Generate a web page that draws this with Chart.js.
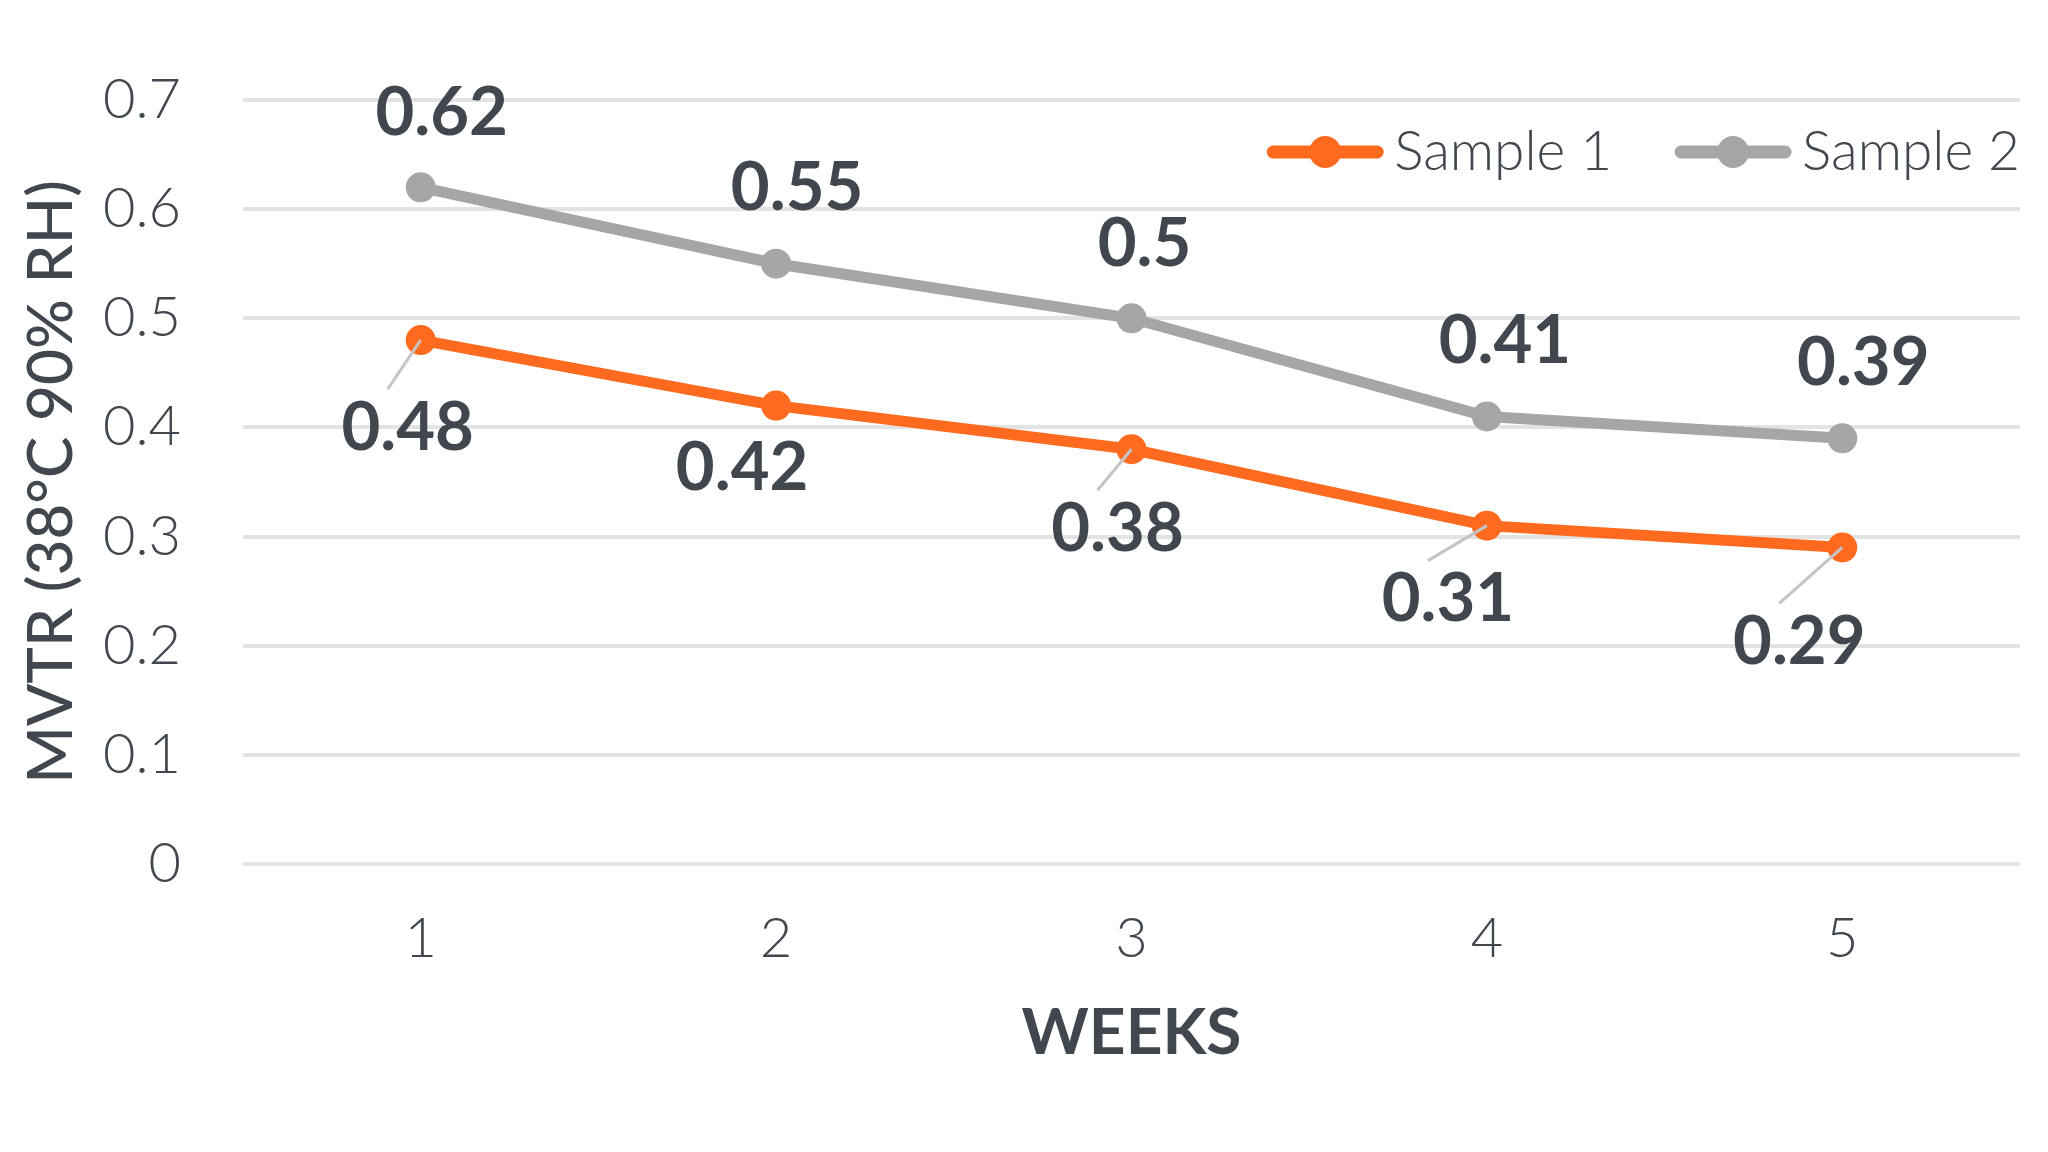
<!DOCTYPE html>
<html>
<head>
<meta charset="utf-8">
<script src="https://cdn.jsdelivr.net/npm/chart.js@4.4.1/dist/chart.umd.min.js"></script>
<style>
  html, body { margin: 0; padding: 0; background: #fff; }
  #wrap { width: 2048px; height: 1152px; }
</style>
</head>
<body>
<div id="wrap"><canvas id="mvtrChart"></canvas></div>
<script>
// values
const weeks = ["1", "2", "3", "4", "5"];
const sample1 = [0.48, 0.42, 0.38, 0.31, 0.29];
const sample2 = [0.62, 0.55, 0.5, 0.41, 0.39];
const seriesNames = ["Sample 1", "Sample 2"];

// where each value label sits, relative to its point (px) - layout only
const shift1 = [[-13, 88], [-34, 63], [-14, 80], [-39, 74], [-43, 95]];
const shift2 = [[21, -74], [21, -75], [13, -74], [18, -75], [21, -75]];
const leader1 = [true, false, true, true, true];

const inkColor = "#40474e";
const orange = "#ff6a1f";
const grey = "#a6a6a8";

// data labels, with the little leader lines going back to the point
const valueLabels = {
  id: "valueLabels",
  afterDatasetsDraw(chart) {
    const ctx = chart.ctx;
    ctx.save();
    chart.data.datasets.forEach((ds, di) => {
      const meta = chart.getDatasetMeta(di);
      meta.data.forEach((pt, i) => {
        const lx = pt.x + ds.labelShift[i][0];
        const ly = pt.y + ds.labelShift[i][1];
        if (ds.leaders && ds.leaders[i]) {
          ctx.strokeStyle = "#c4c4c4";
          ctx.lineWidth = 3;
          ctx.beginPath();
          ctx.moveTo(pt.x, pt.y);
          ctx.lineTo(lx - 20, ly - 39);
          ctx.stroke();
        }
        ctx.fillStyle = inkColor;
        ctx.font = "700 67px Lato";
        ctx.textAlign = "center";
        ctx.textBaseline = "middle";
        ctx.fillText(String(ds.data[i]), lx, ly);
      });
    });
    ctx.restore();
  }
};

// legend sits inside the plot, top right
const cornerLegend = {
  id: "cornerLegend",
  afterDraw(chart) {
    const { ctx, chartArea } = chart;
    const y = chartArea.top + 52;
    let x = chartArea.right;
    ctx.save();
    ctx.font = "300 55px Lato";
    ctx.textBaseline = "middle";
    ctx.textAlign = "left";
    const sets = chart.data.datasets;
    for (let i = sets.length - 1; i >= 0; i--) {
      const ds = sets[i];
      const w = ctx.measureText(ds.label).width;
      x -= w;
      ctx.fillStyle = inkColor;
      ctx.fillText(ds.label, x, y);
      x -= 11;
      ctx.strokeStyle = ds.borderColor;
      ctx.lineWidth = 13;
      ctx.lineCap = "round";
      ctx.beginPath();
      ctx.moveTo(x - 116 + 6, y);
      ctx.lineTo(x - 6, y);
      ctx.stroke();
      ctx.fillStyle = ds.borderColor;
      ctx.beginPath();
      ctx.arc(x - 58, y, 16, 0, Math.PI * 2);
      ctx.fill();
      x -= 116 + 63;
    }
    ctx.restore();
  }
};

function createChart() {
  const ctx = document.getElementById("mvtrChart").getContext("2d");

  new Chart(ctx, {
    type: "line",
    data: {
      labels: weeks,
      datasets: [
        {
          label: seriesNames[0],
          data: sample1,
          borderColor: orange,
          backgroundColor: orange,
          pointBackgroundColor: orange,
          borderWidth: 11,
          pointRadius: 15,
          pointBorderWidth: 0,
          tension: 0,
          labelShift: shift1,
          leaders: leader1,
        },
        {
          label: seriesNames[1],
          data: sample2,
          borderColor: grey,
          backgroundColor: grey,
          pointBackgroundColor: grey,
          borderWidth: 11,
          pointRadius: 15,
          pointBorderWidth: 0,
          tension: 0,
          labelShift: shift2,
        }
      ]
    },
    options: {
      responsive: true,
      maintainAspectRatio: false,
      devicePixelRatio: 1,
      animation: false,
      layout: { padding: { top: 100, right: 28, bottom: 0, left: 0 } },
      plugins: {
        legend: { display: false },
        tooltip: { enabled: false }
      },
      scales: {
        x: {
          offset: true,
          grid: { display: false, drawTicks: false },
          border: { display: false },
          ticks: { color: inkColor, font: { family: "Lato", size: 56, weight: 300 }, padding: 41 },
          title: {
            display: true,
            text: "WEEKS",
            color: inkColor,
            font: { family: "Lato", size: 64, weight: 700 },
            padding: { top: 0, bottom: 80 }
          },
          afterFit: (s) => { s.height = 288; }
        },
        y: {
          min: 0,
          max: 0.7,
          grid: { color: "#e3e3e3", lineWidth: 4, drawTicks: false },
          border: { display: false },
          ticks: {
            stepSize: 0.1,
            color: inkColor,
            font: { family: "Lato", size: 56, weight: 300 },
            padding: 62,
            callback: (v) => String(Math.round(v * 10) / 10)
          },
          title: {
            display: true,
            text: "MVTR (38°C 90% RH)",
            color: inkColor,
            font: { family: "Lato", size: 62, weight: 500 },
            padding: { top: 15, bottom: 0 }
          },
          afterFit: (s) => { s.width = 243; }
        }
      }
    },
    plugins: [valueLabels, cornerLegend]
  });
}

createChart();
</script>
</body>
</html>
